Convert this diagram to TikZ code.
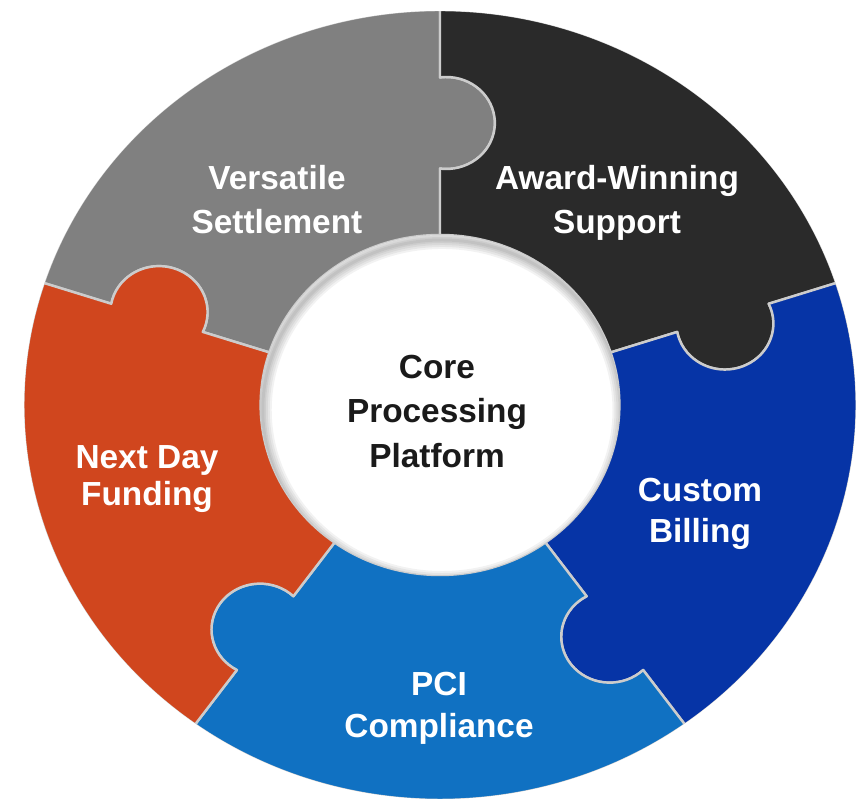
\documentclass[tikz,border=0pt]{standalone}
\usepackage{fontspec}
\setmainfont{Liberation Sans}
\usepackage{tikz}
\usetikzlibrary{positioning}

\definecolor{settlegray}{RGB}{128,128,128}
\definecolor{supportblack}{RGB}{42,42,42}
\definecolor{billingblue}{RGB}{6,52,166}
\definecolor{pciblue}{RGB}{16,113,194}
\definecolor{fundingred}{RGB}{208,70,30}
\definecolor{coretext}{RGB}{26,26,26}

\begin{document}
\begin{tikzpicture}[x=0.02cm, y=0.02cm,
    piece/.style={draw=white!80!black, line width=1.4pt, line join=round},
    piece_text/.style={text=white, align=center, inner sep=0pt, anchor=north,
        font=\fontsize{19}{24.8}\selectfont\bfseries}]

    \useasboundingbox (0,0) rectangle (861,803);

    \begin{scope}[shift={(440,398)}, xscale=1.055]
        \foreach \a/\col in {90/settlegray, 18/supportblack, -54/billingblue, -126/pciblue, 162/fundingred}{
            \pgfmathsetmacro{\b}{\a+72}
            \filldraw[piece, fill=\col] (\a:170) -- (\a:236.4)
                arc[start angle=\a+172.5, end angle=\a+367.5, radius=46] -- (\a:395)
                arc[start angle=\a, end angle=\b, radius=395] -- (\b:327.6)
                arc[start angle=\b+367.5, end angle=\b+172.5, radius=46] -- (\b:170)
                arc[start angle=\b, end angle=\a, radius=170] -- cycle;
        }
        \draw[white, line width=1.6pt] (0,0) circle[radius=395.6];

        \fill[white] (0,0) circle[radius=170];
        \begin{scope}
            \clip (0,0) circle[radius=170];
            \foreach \w in {3,6,10,14,18}
                \draw[black, opacity=0.05, line width=\w*0.567pt] (2,-5) circle[radius=170];
        \end{scope}
    \end{scope}

    \node[piece_text] (text_sett) at (277,638) {Versatile\\Settlement};
    \node[piece_text] (text_supp) at (617,638) {Award-Winning\\Support};
    \node[piece_text, font=\fontsize{19}{23.2}\selectfont\bfseries] (text_bill) at (700,325) {Custom\\Billing};
    \node[piece_text, font=\fontsize{19}{23.8}\selectfont\bfseries] (text_pci) at (439,131) {PCI\\Compliance};
    \node[piece_text, font=\fontsize{19}{21}\selectfont\bfseries] (text_fund) at (147,358) {Next Day\\Funding};
    \node[piece_text, text=coretext, font=\fontsize{19}{25.2}\selectfont\bfseries] (text_core) at (437,448) {Core\\Processing\\Platform};
\end{tikzpicture}
\end{document}
